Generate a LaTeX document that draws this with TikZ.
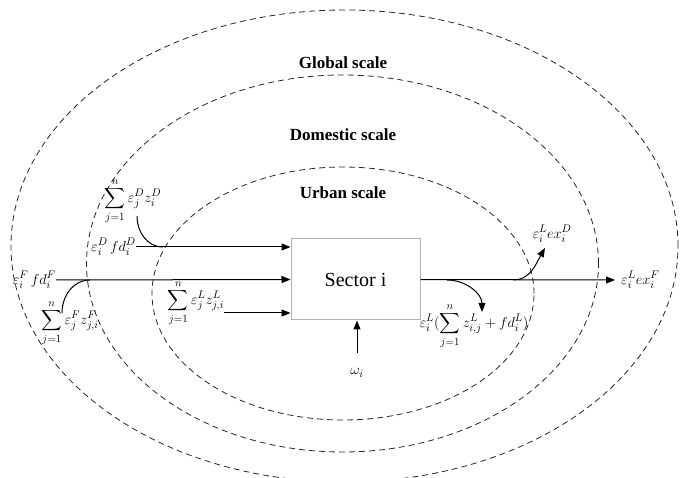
\documentclass[tikz,border=0pt]{standalone}
\usepackage{exscale}
\usepackage{fontspec}
\setmainfont{Liberation Serif}
\usetikzlibrary{arrows.meta}
\tikzset{
  dashline/.style={draw=black!85, line width=0.8pt, dash pattern=on 6pt off 4pt},
  arr/.style={line width=1pt, -{Triangle[length=9pt,width=7pt]}},
  link/.style={line width=1pt},
  scalelbl/.style={font=\fontsize{17}{19}\selectfont\bfseries, inner sep=0pt},
  sectorbox/.style={draw=black!30, line width=1pt, fill=white, minimum width=129pt, minimum height=81pt, font=\fontsize{20}{22}\selectfont, inner sep=0pt},
  mlbl/.style={font=\fontsize{15}{17}\selectfont, inner sep=0pt}
}
\begin{document}
\begin{tikzpicture}[x=1pt,y=-1pt]
\useasboundingbox (0,0) rectangle (683,478);
% scale ellipses
\draw[dashline] (344.5,246) ellipse [x radius=333.5pt, y radius=236pt];
\draw[dashline] (342.5,263.5) ellipse [x radius=256pt, y radius=188.5pt];
\draw[dashline] (343,293.5) ellipse [x radius=191pt, y radius=126.5pt];
% scale labels
\node[scalelbl] (glob) at (343,63) {Global scale};
\node[scalelbl] (dom) at (343,135) {Domestic scale};
\node[scalelbl] (urb) at (343,193) {Urban scale};
% sector
\node[sectorbox] (sec) at (355.5,279.5) {Sector i};
% labels
\node[mlbl, anchor=east] (fdD) at (136,247) {$\varepsilon_i^D\, fd_i^D$};
\node[mlbl, anchor=east] (fdF) at (56,280) {$\varepsilon_i^F\, fd_i^F$};
\node[mlbl] (sumD) at (133,201) {$\displaystyle\sum_{j=1}^{n}\varepsilon_j^D z_i^D$};
\node[mlbl] (sumF) at (70,323) {$\displaystyle\sum_{j=1}^{n}\varepsilon_j^F z_{j,i}^F$};
\node[mlbl] (sumL) at (196,303) {$\displaystyle\sum_{j=1}^{n}\varepsilon_j^L z_{j,i}^L$};
\node[mlbl] (outL) at (474,326) {$\displaystyle\varepsilon_i^L(\sum_{j=1}^{n} z_{i,j}^L + fd_i^L)$};
\node[mlbl] (exD) at (552,234) {$\varepsilon_i^L ex_i^D$};
\node[mlbl, anchor=west] (exF) at (621,280) {$\varepsilon_i^L ex_i^F$};
\node[mlbl] (om) at (357,373) {$\omega_i$};
% helper coordinates
\coordinate (cD) at (137,216);
\coordinate (jD) at (163,247);
\coordinate (cF) at (62,313);
\coordinate (jF) at (90,280);
\coordinate (y3) at (0,313);
\coordinate (b1) at (513,280);
\coordinate (t1) at (545,248);
\coordinate (b2) at (447,280);
\coordinate (t2) at (482,312);
% inputs
\draw[arr] (fdD.east) -- (fdD.east -| sec.west);
\draw[arr] (fdF.east) -- (sec.west);
\draw[arr] (sumL.east |- y3) -- (sec.west |- y3);
\draw[link] (cD) to[out=-90,in=180] (jD);
\draw[link] (cF) to[out=90,in=180] (jF);
\draw[arr] ([yshift=20pt]om.center) -- (om.center |- sec.south);
% outputs
\draw[arr] (sec.east) -- ([xshift=-6pt]exF.west);
\draw[arr] (b1) to[out=0,in=-120] (t1);
\draw[arr] (b2) to[out=0,in=90] (t2);
\end{tikzpicture}
\end{document}
